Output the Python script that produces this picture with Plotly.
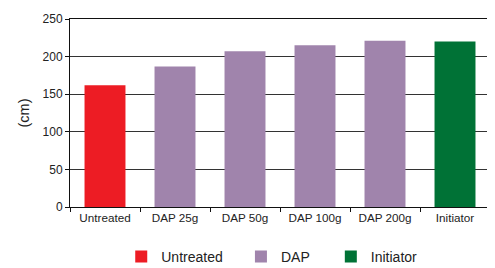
import plotly.graph_objects as go

categories = ["Untreated", "DAP 25g", "DAP 50g", "DAP 100g", "DAP 200g", "Initiator"]
groups = ["Untreated", "DAP", "DAP", "DAP", "DAP", "Initiator"]
values = [162, 187, 207, 215, 221, 220]
group_names = ["Untreated", "DAP", "Initiator"]
group_colors = {"Untreated": "#ED1C24", "DAP": "#A084AC", "Initiator": "#007236"}
legend_ids = ["legend", "legend2", "legend3"]
legend_x = [0.122, 0.407, 0.621]

fig = go.Figure()
for g, lid in zip(group_names, legend_ids):
    xs = [c for c, gg in zip(categories, groups) if gg == g]
    ys = [v for v, gg in zip(values, groups) if gg == g]
    fig.add_trace(go.Bar(x=xs, y=ys, name=g, legend=lid,
                         marker=dict(color=group_colors[g], line=dict(width=0)), width=0.585))

legend_style = dict(orientation="h", xanchor="left", y=-0.18, yanchor="top",
                    font=dict(size=14, color="#222"), itemwidth=30, bgcolor="rgba(0,0,0,0)")

fig.update_layout(
    width=487, height=260,
    margin=dict(l=62, r=5, t=11, b=61, autoexpand=False),
    barmode="overlay",
    plot_bgcolor="white", paper_bgcolor="white",
    font=dict(family="Liberation Sans, Arial, sans-serif", size=12, color="#222"),
    showlegend=True,
    legend=dict(x=legend_x[0], **legend_style),
    legend2=dict(x=legend_x[1], **legend_style),
    legend3=dict(x=legend_x[2], **legend_style),
    xaxis=dict(categoryorder="array", categoryarray=categories, automargin=False,
               showline=True, linecolor="#111", linewidth=1, mirror=True,
               ticks="outside", ticklen=4, tickcolor="#111", tickson="boundaries",
               showgrid=False, tickfont=dict(size=11.7)),
    yaxis=dict(range=[0, 250], dtick=50, showline=True, linecolor="#111", linewidth=1, mirror=True,
               ticks="outside", ticklen=4, tickcolor="#111", automargin=False,
               showgrid=True, gridcolor="#333", gridwidth=1, zeroline=False,
               title=dict(text="(cm)", font=dict(size=14.5), standoff=9), tickfont=dict(size=12)),
)

fig.write_html("out.html")
